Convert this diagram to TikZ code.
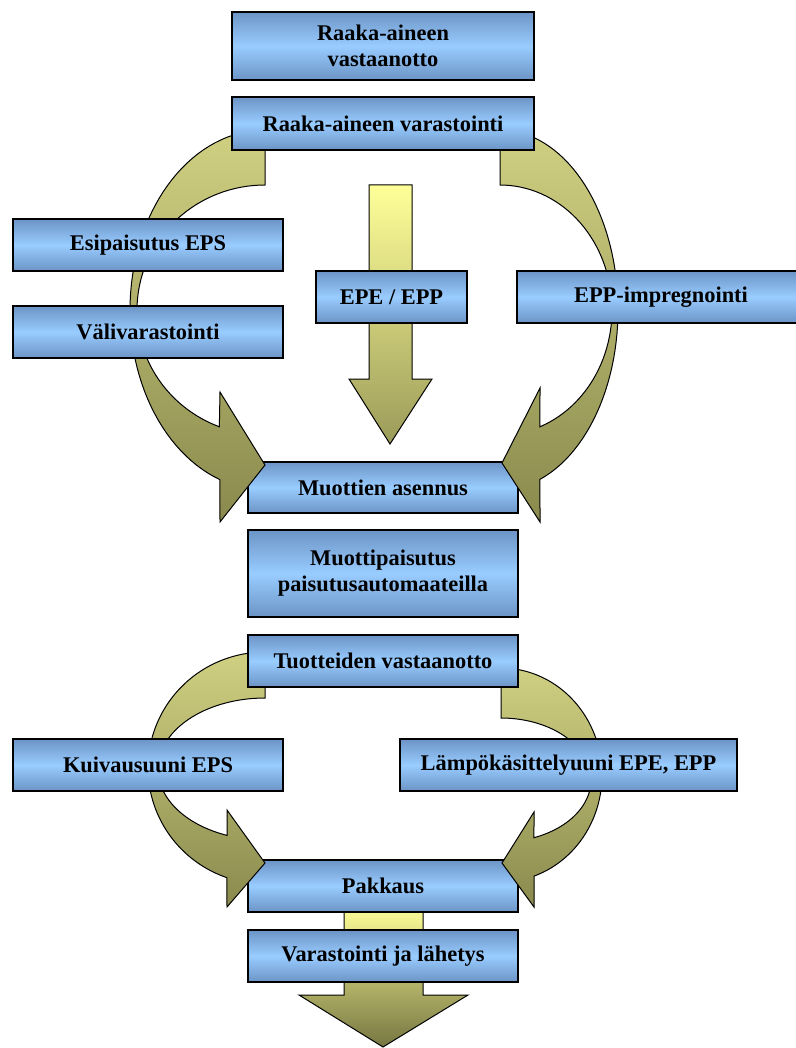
\documentclass[tikz,border=0pt]{standalone}
\usepackage{fontspec}
\setmainfont{Liberation Serif}
\definecolor{boxedge}{RGB}{108,148,198}
\definecolor{boxmid}{RGB}{153,204,255}
\definecolor{olivetop}{RGB}{208,208,130}
\definecolor{olivebot}{RGB}{138,138,78}
\definecolor{yeltop}{RGB}{255,255,153}
\definecolor{midbot}{RGB}{155,155,90}
\definecolor{lowbot}{RGB}{118,118,66}
\begin{document}
\begin{tikzpicture}[x=1pt,y=-1pt,
  box/.style={draw=black, line width=1.3pt, top color=boxedge, bottom color=boxedge, middle color=boxmid,
    minimum height=52pt, inner sep=0pt, align=center, font=\fontsize{22.4}{26}\selectfont\bfseries},
  bandarrow/.style={draw=black, line width=1pt, top color=olivetop, bottom color=olivebot},
  straightarrow/.style={draw=black, line width=1pt, top color=yeltop},
]
\useasboundingbox (0,0) rectangle (795,1048);

% ---------- upper part ----------
\node[box, minimum width=270pt, minimum height=51pt] (asennus) at (383,487.5) {Muottien asennus};

\path[straightarrow, bottom color=midbot]
  (369,185) -- (412,185) -- (412,379) -- (432,379) -- (390,444) -- (349,379) -- (369,379) -- cycle;

\path[bandarrow]
  plot[domain=270:109.5, samples=60, variable=\t] ({265+135*cos(\t)},{310+180*sin(\t)})
  -- (220,522) -- (265,465) -- (220,392)
  -- plot[domain=110.9:270, samples=60, variable=\t] ({265+128*cos(\t)},{310+125*sin(\t)})
  -- cycle;

\path[bandarrow]
  plot[domain=-90:70.2, samples=60, variable=\t] ({500+118*cos(\t)},{310+180*sin(\t)})
  -- (540,522) -- (502,463) -- (540,388)
  -- plot[domain=69.1:-90, samples=60, variable=\t] ({500+112*cos(\t)},{310+125*sin(\t)})
  -- cycle;

\node[box, minimum width=302pt, minimum height=68pt] (vastaanotto) at (383,46) {Raaka-aineen\\vastaanotto};
\node[box, minimum width=302pt, minimum height=53pt] (varastointi) at (383,123.5) {Raaka-aineen varastointi};
\node[box, minimum width=270pt] (esipaisutus) at (148,245) {Esipaisutus EPS};
\node[box, minimum width=270pt] (vali) at (148,332) {Välivarastointi};
\node[box, minimum width=151pt] (epe) at (391.5,297) {EPE / EPP};
\node[box, minimum width=288pt] (impreg) at (661,297) {EPP-impregnointi};

\node[box, minimum width=270pt, minimum height=87pt] (muotti) at (383,573.5) {Muottipaisutus\\paisutusautomaateilla};

% ---------- lower part ----------
\path[straightarrow, bottom color=lowbot]
  (344,905) -- (423,905) -- (423,995) -- (468,995) -- (383,1047) -- (299,995) -- (344,995) -- cycle;

\node[box, minimum width=270pt] (pakkaus) at (383,886) {Pakkaus};

\path[bandarrow]
  plot[domain=270:109, samples=60, variable=\t] ({265+117*cos(\t)},{768+116*sin(\t)})
  -- (227,907) -- (265,863) -- (227,810)
  -- plot[domain=110.8:270, samples=60, variable=\t] ({265+107*cos(\t)},{769+71*sin(\t)})
  -- cycle;

\path[bandarrow]
  plot[domain=-90:70.9, samples=60, variable=\t] ({501+101*cos(\t)},{775+107*sin(\t)})
  -- (534,907) -- (502,863) -- (534,812)
  -- plot[domain=68.5:-90, samples=60, variable=\t] ({501+90*cos(\t)},{780+62*sin(\t)})
  -- cycle;

\node[box, minimum width=270pt] (tuotteiden) at (383,661) {Tuotteiden vastaanotto};
\node[box, minimum width=270pt] (kuivaus) at (148,765) {Kuivausuuni EPS};
\node[box, minimum width=337pt] (lampo) at (568.5,765) {Lämpökäsittelyuuni EPE, EPP};
\node[box, minimum width=270pt] (lahetys) at (383,956) {Varastointi ja lähetys};
\end{tikzpicture}
\end{document}
